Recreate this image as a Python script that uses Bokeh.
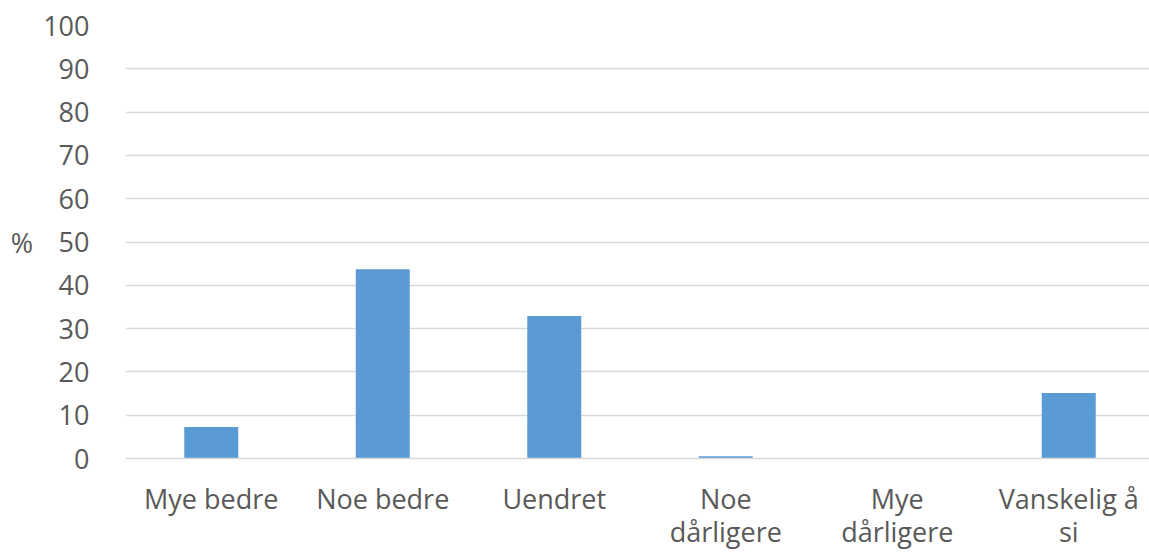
from bokeh.plotting import figure
from bokeh.models import Range1d, FixedTicker, ColumnDataSource
from bokeh.embed import file_html
from bokeh.resources import INLINE

# Responses (%)
categories = ["Mye bedre", "Noe bedre", "Uendret", "Noe\ndårligere", "Mye\ndårligere", "Vanskelig å\nsi"]
values = [7.3, 43.7, 32.9, 0.5, 0.0, 15.1]
y_ticks = [0, 10, 20, 30, 40, 50, 60, 70, 80, 90, 100]

FONT = "Open Sans"
TEXT_COLOR = "#595959"
GRID_COLOR = "#d9d9d9"
BAR_COLOR = "#5b9bd5"

W, H = 1149, 553
left, right, top, bottom = 125, 0, 25, 95
slot = 171.5  # pixel width of one category slot
frame_w = W - left - right

xs = [i + 0.5 for i in range(len(categories))]
src = ColumnDataSource(dict(x=xs, top=values))

p = figure(width=W, height=H, output_backend="svg", toolbar_location=None,
           x_range=Range1d(0, frame_w / slot), y_range=Range1d(0, 100),
           min_border_left=left, min_border_right=right,
           min_border_top=top, min_border_bottom=bottom)

p.vbar(x="x", top="top", width=54 / slot, bottom=0, source=src,
       fill_color=BAR_COLOR, line_color=None)

p.outline_line_color = None
p.background_fill_color = "white"
p.border_fill_color = "white"

# grid
p.xgrid.grid_line_color = None
p.ygrid.grid_line_color = GRID_COLOR
p.ygrid.grid_line_width = 1.5
p.ygrid.ticker = FixedTicker(ticks=y_ticks)

# y axis, with a horizontal "%" unit label
p.yaxis.ticker = FixedTicker(ticks=y_ticks)
p.yaxis.axis_line_color = None
p.yaxis.major_tick_line_color = None
p.yaxis.minor_tick_line_color = None
p.yaxis.major_label_standoff = 30
p.yaxis.major_label_text_font = FONT
p.yaxis.major_label_text_font_size = "27px"
p.yaxis.major_label_text_color = TEXT_COLOR
p.yaxis.axis_label = "%"
p.yaxis.axis_label_orientation = "horizontal"
p.yaxis.axis_label_standoff = 7
p.yaxis.axis_label_text_font = FONT
p.yaxis.axis_label_text_font_size = "27px"
p.yaxis.axis_label_text_font_style = "normal"
p.yaxis.axis_label_text_color = TEXT_COLOR

# x axis
p.xaxis.ticker = FixedTicker(ticks=xs)
p.xaxis.major_label_overrides = {x: c for x, c in zip(xs, categories)}
p.xaxis.axis_line_color = GRID_COLOR
p.xaxis.axis_line_width = 1.5
p.xaxis.major_tick_line_color = None
p.xaxis.minor_tick_line_color = None
p.xaxis.major_label_standoff = 15
p.xaxis.major_label_text_font = FONT
p.xaxis.major_label_text_font_size = "27px"
p.xaxis.major_label_text_color = TEXT_COLOR
p.xaxis.major_label_text_line_height = 0.9

open("out.html", "w").write(file_html(p, INLINE))
